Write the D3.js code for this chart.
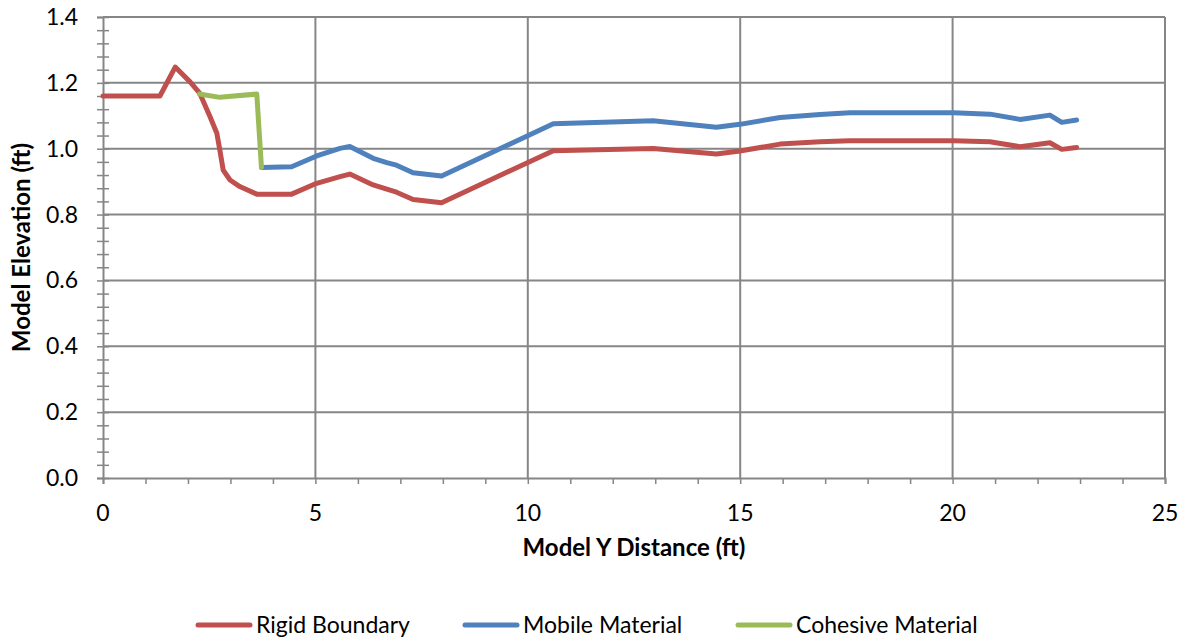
<!DOCTYPE html>
<html>
<head>
<meta charset="utf-8">
<script src="https://cdn.jsdelivr.net/npm/d3@7"></script>
<style>
  body { margin: 0; background: #fff; }
  svg { display: block; font-family: Lato, "Open Sans", sans-serif; }
</style>
</head>
<body>
<svg id="chart" width="1187" height="639"></svg>
<script>
const width = 1187;
const height = 639;

// data
const rigidX = [0, 1.34, 1.70, 2.05, 2.28, 2.52, 2.68, 2.75, 2.83, 2.99, 3.22, 3.62, 4.44, 5.03, 5.58, 5.81, 6.36, 6.68, 6.91, 7.30, 7.97, 10.60, 12.95, 14.44, 14.99, 15.94, 16.88, 17.58, 20.02, 20.88, 21.59, 22.29, 22.57, 22.92];
const rigidY = [1.16, 1.16, 1.248, 1.203, 1.168, 1.097, 1.047, 0.996, 0.935, 0.905, 0.885, 0.862, 0.862, 0.895, 0.915, 0.923, 0.890, 0.877, 0.868, 0.846, 0.836, 0.994, 1.001, 0.984, 0.993, 1.014, 1.021, 1.024, 1.024, 1.021, 1.006, 1.018, 0.998, 1.004];

const mobileX = [3.73, 4.44, 5.03, 5.58, 5.81, 6.36, 6.68, 6.91, 7.30, 7.97, 10.60, 12.95, 14.44, 14.99, 15.94, 16.88, 17.58, 20.02, 20.88, 21.59, 22.29, 22.57, 22.92];
const mobileY = [0.943, 0.945, 0.978, 1.001, 1.007, 0.971, 0.958, 0.950, 0.927, 0.917, 1.076, 1.085, 1.065, 1.074, 1.095, 1.104, 1.109, 1.109, 1.105, 1.089, 1.102, 1.080, 1.087];

const cohesiveX = [2.27, 2.75, 3.62, 3.73];
const cohesiveY = [1.166, 1.156, 1.166, 0.943];

const xTicks = [0, 5, 10, 15, 20, 25];
const yTicks = [0, 0.2, 0.4, 0.6, 0.8, 1.0, 1.2, 1.4];

const series = [
  { name: "Rigid Boundary", color: "#C0504D", xs: rigidX, ys: rigidY },
  { name: "Mobile Material", color: "#4F81BD", xs: mobileX, ys: mobileY },
  { name: "Cohesive Material", color: "#9BBB59", xs: cohesiveX, ys: cohesiveY }
];

const margin = { top: 17, right: 22, bottom: 161, left: 103 };
const svg = d3.select("#chart");

const x = d3.scaleLinear().domain([0, 25]).range([margin.left, width - margin.right]);
const y = d3.scaleLinear().domain([0, 1.4]).range([height - margin.bottom, margin.top]);

const grid = "#868686";

// gridlines
svg.append("g").selectAll("line")
  .data(yTicks.slice(1))
  .enter().append("line")
  .attr("x1", x(0)).attr("x2", x(25))
  .attr("y1", d => y(d)).attr("y2", d => y(d))
  .attr("stroke", grid).attr("stroke-width", 2);

svg.append("g").selectAll("line")
  .data(xTicks.slice(1))
  .enter().append("line")
  .attr("x1", d => x(d)).attr("x2", d => x(d))
  .attr("y1", y(0)).attr("y2", y(1.4))
  .attr("stroke", grid).attr("stroke-width", 2);

// axes
const xAxis = d3.axisBottom(x).tickValues(d3.range(0, 26, 1)).tickSize(6).tickFormat("");
const gx = svg.append("g").attr("transform", `translate(0,${y(0)})`).call(xAxis);
gx.selectAll("line").attr("stroke", grid).attr("stroke-width", 1.5);
gx.select(".domain").attr("stroke", grid).attr("stroke-width", 2);

const yAxis = d3.axisLeft(y).tickValues(d3.range(0, 1.401, 0.04)).tickSize(6).tickFormat("");
const gy = svg.append("g").attr("transform", `translate(${x(0)},0)`).call(yAxis);
gy.selectAll("line").attr("stroke", grid).attr("stroke-width", 1.5).attr("x2", -6).attr("x1", 6);
gy.select(".domain").attr("stroke", grid).attr("stroke-width", 2);

// tick labels
svg.append("g").selectAll("text")
  .data(xTicks)
  .enter().append("text")
  .attr("x", d => x(d))
  .attr("y", y(0) + 43)
  .attr("text-anchor", "middle")
  .attr("font-size", 23)
  .attr("fill", "#000")
  .text(d => d);

svg.append("g").selectAll("text")
  .data(yTicks)
  .enter().append("text")
  .attr("x", 78)
  .attr("y", d => y(d) + 8)
  .attr("text-anchor", "end")
  .attr("font-size", 23)
  .attr("fill", "#000")
  .text(d => d.toFixed(1));

// axis titles
svg.append("text")
  .attr("x", x(12.5))
  .attr("y", 556)
  .attr("text-anchor", "middle")
  .attr("font-size", 24)
  .attr("font-weight", "bold")
  .text("Model Y Distance (ft)");

svg.append("text")
  .attr("transform", `translate(30,${y(0.7)}) rotate(-90)`)
  .attr("text-anchor", "middle")
  .attr("font-size", 24)
  .attr("font-weight", "bold")
  .text("Model Elevation (ft)");

// series
series.forEach(s => {
  const pts = s.xs.map((v, i) => [v, s.ys[i]]);
  svg.append("path")
    .datum(pts)
    .attr("fill", "none")
    .attr("stroke", s.color)
    .attr("stroke-width", 5)
    .attr("stroke-linejoin", "round")
    .attr("stroke-linecap", "round")
    .attr("d", d3.line().x(d => x(d[0])).y(d => y(d[1])));
});

// legend
const legendPos = [198, 465, 738];
const legendItems = svg.append("g").selectAll("g")
  .data(series)
  .enter().append("g")
  .attr("transform", (d, i) => `translate(${legendPos[i]},625)`);

legendItems.append("line")
  .attr("x1", 0).attr("x2", 52)
  .attr("stroke", d => d.color)
  .attr("stroke-width", 5)
  .attr("stroke-linecap", "round");

legendItems.append("text")
  .attr("x", 58)
  .attr("y", 8)
  .attr("font-size", 23)
  .text(d => d.name);
</script>
</body>
</html>
